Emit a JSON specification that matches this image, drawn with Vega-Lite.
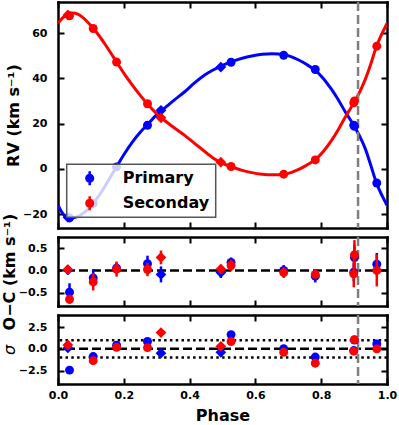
{
"$schema": "https://vega.github.io/schema/vega-lite/v6.json",
"background": "white",
"padding": {"left": 1, "top": 0, "right": 5, "bottom": 0},
"bounds": "flush",
"spacing": 9,
"resolve": {"scale": {"color": "independent"}, "legend": {"color": "independent"}},
"config": {
  "font": "DejaVu Sans",
  "view": {"stroke": null},
  "axis": {"domain": true, "domainColor": "black", "domainWidth": 2.5, "domainCap": "square", "grid": false, "ticks": true, "tickColor": "black", "tickWidth": 2, "tickSize": -6, "labelFont": "DejaVu Sans", "labelFontSize": 11, "labelFontWeight": "bold", "labelColor": "black", "labelFlush": false, "labelOverlap": false, "titleFont": "DejaVu Sans", "titleFontSize": 16, "titleFontWeight": "bold", "titleColor": "black", "titlePadding": 3, "zindex": 1},
  "axisX": {"labelPadding": 11, "titlePadding": 7},
  "axisY": {"labelPadding": 17, "titlePadding": 1}
},
"datasets": {
  "curve": [
    {"comp":"Primary","phase":0,"rv":-16},{"comp":"Primary","phase":0.015,"rv":-19.8},{"comp":"Primary","phase":0.033,"rv":-21.5},{"comp":"Primary","phase":0.05,"rv":-21.4},{"comp":"Primary","phase":0.07,"rv":-20.2},{"comp":"Primary","phase":0.094,"rv":-17.3},{"comp":"Primary","phase":0.115,"rv":-13.6},{"comp":"Primary","phase":0.135,"rv":-9.5},{"comp":"Primary","phase":0.155,"rv":-4.6},{"comp":"Primary","phase":0.176,"rv":0.5},{"comp":"Primary","phase":0.2,"rv":6.3},{"comp":"Primary","phase":0.226,"rv":11.9},{"comp":"Primary","phase":0.25,"rv":16.2},{"comp":"Primary","phase":0.272,"rv":19.6},{"comp":"Primary","phase":0.3,"rv":24.0},{"comp":"Primary","phase":0.325,"rv":27.0},{"comp":"Primary","phase":0.355,"rv":30.6},{"comp":"Primary","phase":0.386,"rv":34.2},{"comp":"Primary","phase":0.415,"rv":38.0},{"comp":"Primary","phase":0.447,"rv":41.6},{"comp":"Primary","phase":0.47,"rv":43.6},{"comp":"Primary","phase":0.497,"rv":45.5},{"comp":"Primary","phase":0.528,"rv":47.4},{"comp":"Primary","phase":0.56,"rv":48.9},{"comp":"Primary","phase":0.589,"rv":49.9},{"comp":"Primary","phase":0.62,"rv":50.6},{"comp":"Primary","phase":0.65,"rv":50.9},{"comp":"Primary","phase":0.669,"rv":50.8},{"comp":"Primary","phase":0.689,"rv":50.4},{"comp":"Primary","phase":0.71,"rv":49.5},{"comp":"Primary","phase":0.73,"rv":48.2},{"comp":"Primary","phase":0.755,"rv":46.2},{"comp":"Primary","phase":0.783,"rv":43.4},{"comp":"Primary","phase":0.805,"rv":40.2},{"comp":"Primary","phase":0.831,"rv":35.2},{"comp":"Primary","phase":0.85,"rv":31.0},{"comp":"Primary","phase":0.872,"rv":25.5},{"comp":"Primary","phase":0.9,"rv":19.0},{"comp":"Primary","phase":0.915,"rv":15.0},{"comp":"Primary","phase":0.933,"rv":9.3},{"comp":"Primary","phase":0.95,"rv":2.0},{"comp":"Primary","phase":0.968,"rv":-6.2},{"comp":"Primary","phase":0.985,"rv":-11.8},{"comp":"Primary","phase":1.0,"rv":-16},
    {"comp":"Seconday","phase":0,"rv":64.3},{"comp":"Seconday","phase":0.015,"rv":66.8},{"comp":"Seconday","phase":0.03,"rv":68.3},{"comp":"Seconday","phase":0.044,"rv":68.8},{"comp":"Seconday","phase":0.06,"rv":68.3},{"comp":"Seconday","phase":0.074,"rv":67.0},{"comp":"Seconday","phase":0.09,"rv":64.9},{"comp":"Seconday","phase":0.107,"rv":62.1},{"comp":"Seconday","phase":0.125,"rv":58.8},{"comp":"Seconday","phase":0.145,"rv":54.6},{"comp":"Seconday","phase":0.16,"rv":51.3},{"comp":"Seconday","phase":0.178,"rv":47.2},{"comp":"Seconday","phase":0.2,"rv":42.3},{"comp":"Seconday","phase":0.226,"rv":37.0},{"comp":"Seconday","phase":0.25,"rv":32.5},{"comp":"Seconday","phase":0.272,"rv":28.7},{"comp":"Seconday","phase":0.3,"rv":24.4},{"comp":"Seconday","phase":0.325,"rv":21.3},{"comp":"Seconday","phase":0.355,"rv":18.0},{"comp":"Seconday","phase":0.386,"rv":14.7},{"comp":"Seconday","phase":0.415,"rv":11.3},{"comp":"Seconday","phase":0.447,"rv":7.6},{"comp":"Seconday","phase":0.47,"rv":5.0},{"comp":"Seconday","phase":0.497,"rv":2.7},{"comp":"Seconday","phase":0.528,"rv":0.9},{"comp":"Seconday","phase":0.56,"rv":-0.6},{"comp":"Seconday","phase":0.589,"rv":-1.6},{"comp":"Seconday","phase":0.62,"rv":-2.3},{"comp":"Seconday","phase":0.65,"rv":-2.6},{"comp":"Seconday","phase":0.669,"rv":-2.6},{"comp":"Seconday","phase":0.689,"rv":-2.3},{"comp":"Seconday","phase":0.71,"rv":-1.5},{"comp":"Seconday","phase":0.73,"rv":-0.3},{"comp":"Seconday","phase":0.755,"rv":1.6},{"comp":"Seconday","phase":0.783,"rv":4.2},{"comp":"Seconday","phase":0.805,"rv":7.5},{"comp":"Seconday","phase":0.831,"rv":12.5},{"comp":"Seconday","phase":0.85,"rv":16.9},{"comp":"Seconday","phase":0.872,"rv":22.6},{"comp":"Seconday","phase":0.9,"rv":29.4},{"comp":"Seconday","phase":0.915,"rv":33.4},{"comp":"Seconday","phase":0.933,"rv":39.2},{"comp":"Seconday","phase":0.95,"rv":46.0},{"comp":"Seconday","phase":0.968,"rv":54.2},{"comp":"Seconday","phase":0.985,"rv":59.8},{"comp":"Seconday","phase":1.0,"rv":64.3}
  ],
  "obs": [
    {"comp":"Primary","inst":"diamond","phase":0.030,"rv":-21.3,"oc":0.01,"err":0.1,"sig":0.1},
    {"comp":"Primary","inst":"circle","phase":0.035,"rv":-21.6,"oc":-0.49,"err":0.2,"sig":-2.45},
    {"comp":"Primary","inst":"circle","phase":0.107,"rv":-15.2,"oc":-0.17,"err":0.19,"sig":-0.89},
    {"comp":"Primary","inst":"circle","phase":0.178,"rv":0.9,"oc":0.05,"err":0.12,"sig":0.42},
    {"comp":"Primary","inst":"circle","phase":0.272,"rv":19.3,"oc":0.15,"err":0.18,"sig":0.85},
    {"comp":"Primary","inst":"diamond","phase":0.313,"rv":25.9,"oc":-0.09,"err":0.18,"sig":-0.5},
    {"comp":"Primary","inst":"diamond","phase":0.495,"rv":45.0,"oc":-0.05,"err":0.12,"sig":-0.4},
    {"comp":"Primary","inst":"circle","phase":0.526,"rv":47.1,"oc":0.18,"err":0.11,"sig":1.64},
    {"comp":"Primary","inst":"circle","phase":0.686,"rv":50.2,"oc":0.0,"err":0.12,"sig":0.02},
    {"comp":"Primary","inst":"circle","phase":0.782,"rv":43.9,"oc":-0.13,"err":0.14,"sig":-0.95},
    {"comp":"Primary","inst":"circle","phase":0.899,"rv":19.3,"oc":-0.04,"err":0.2,"sig":-0.2},
    {"comp":"Primary","inst":"circle","phase":0.901,"rv":18.8,"oc":0.29,"err":0.28,"sig":1.02},
    {"comp":"Primary","inst":"circle","phase":0.969,"rv":-6.2,"oc":0.14,"err":0.25,"sig":0.57},
    {"comp":"Seconday","inst":"diamond","phase":0.030,"rv":68.0,"oc":0.02,"err":0.05,"sig":0.45},
    {"comp":"Seconday","inst":"circle","phase":0.035,"rv":67.6,"oc":-0.65,"err":0.1,"sig":-6.5},
    {"comp":"Seconday","inst":"circle","phase":0.107,"rv":62.0,"oc":-0.26,"err":0.19,"sig":-1.36},
    {"comp":"Seconday","inst":"circle","phase":0.178,"rv":47.2,"oc":0.03,"err":0.17,"sig":0.18},
    {"comp":"Seconday","inst":"circle","phase":0.272,"rv":28.8,"oc":0.02,"err":0.15,"sig":0.14},
    {"comp":"Seconday","inst":"diamond","phase":0.313,"rv":22.6,"oc":0.29,"err":0.155,"sig":1.88},
    {"comp":"Seconday","inst":"diamond","phase":0.495,"rv":3.0,"oc":0.03,"err":0.1,"sig":0.3},
    {"comp":"Seconday","inst":"circle","phase":0.526,"rv":1.1,"oc":0.11,"err":0.13,"sig":0.85},
    {"comp":"Seconday","inst":"circle","phase":0.686,"rv":-2.3,"oc":-0.05,"err":0.12,"sig":-0.4},
    {"comp":"Seconday","inst":"circle","phase":0.782,"rv":4.0,"oc":-0.09,"err":0.055,"sig":-1.65},
    {"comp":"Seconday","inst":"circle","phase":0.899,"rv":29.2,"oc":-0.08,"err":0.3,"sig":-0.27},
    {"comp":"Seconday","inst":"circle","phase":0.901,"rv":30.0,"oc":0.35,"err":0.33,"sig":1.06},
    {"comp":"Seconday","inst":"circle","phase":0.969,"rv":54.2,"oc":0.0,"err":0.36,"sig":0.0}
  ]
},
"vconcat": [
  {
    "width": 329, "height": 226,
    "resolve": {"axis": {"x": "independent", "y": "independent"}},
    "layer": [
      {
        "data": {"name": "curve"},
        "mark": {"type": "line", "strokeWidth": 3, "interpolate": "monotone", "clip": true},
        "encoding": {
          "x": {"field": "phase", "type": "quantitative", "scale": {"domain": [0, 1], "nice": false}, "axis": null},
          "y": {"field": "rv", "type": "quantitative", "scale": {"domain": [-26.05, 73.7], "nice": false, "zero": false}, "axis": null},
          "color": {"field": "comp", "type": "nominal", "scale": {"domain": ["Primary", "Seconday"], "range": ["#0000ff", "#ff0000"]}}
        }
      },
      {
        "data": {"values": [{}]},
        "mark": {"type": "rule", "color": "#808080", "strokeWidth": 2.5, "strokeDash": [9, 4]},
        "encoding": {"x": {"datum": 0.912, "type": "quantitative", "axis": null}}
      },
      {
        "data": {"name": "obs"},
        "transform": [{"filter": "datum.comp === 'Primary'"}],
        "mark": {"type": "point", "filled": true, "opacity": 1, "strokeWidth": 0, "clip": true},
        "encoding": {
          "x": {"field": "phase", "type": "quantitative", "axis": {"orient": "bottom", "values": [0, 0.2, 0.4, 0.6, 0.8, 1], "labels": false, "title": null}},
          "y": {"field": "rv", "type": "quantitative", "axis": {"orient": "left", "values": [-20, 0, 20, 40, 60], "title": "RV (km s⁻¹)"}},
          "color": {"field": "comp", "type": "nominal", "scale": {"domain": ["Primary", "Seconday"], "range": ["#0000ff", "#ff0000"]}},
          "shape": {"field": "inst", "type": "nominal", "scale": {"domain": ["circle", "diamond"], "range": ["circle", "diamond"]}, "legend": null},
          "size": {"field": "inst", "type": "nominal", "scale": {"domain": ["circle", "diamond"], "range": [80, 115]}, "legend": null}
        }
      },
      {
        "data": {"name": "obs"},
        "transform": [{"filter": "datum.comp === 'Seconday'"}],
        "mark": {"type": "point", "filled": true, "opacity": 1, "strokeWidth": 0, "clip": true},
        "encoding": {
          "x": {"field": "phase", "type": "quantitative", "axis": {"orient": "top", "values": [0, 0.2, 0.4, 0.6, 0.8, 1], "labels": false, "title": null}},
          "y": {"field": "rv", "type": "quantitative", "axis": {"orient": "right", "values": [-20, 0, 20, 40, 60], "labels": false, "title": null}},
          "color": {"field": "comp", "type": "nominal", "scale": {"domain": ["Primary", "Seconday"], "range": ["#0000ff", "#ff0000"]},
            "legend": {"orient": "none", "legendX": 8.7, "legendY": 162.3, "title": null, "symbolType": "M-0.18,-1H0.18V1H-0.18ZM-0.65,0A0.65,0.65 0 1,1 0.65,0A0.65,0.65 0 1,1 -0.65,0Z", "symbolSize": 196, "symbolStrokeWidth": 0, "symbolOpacity": 1, "symbolOffset": 9, "labelOffset": 25, "labelFont": "DejaVu Sans", "labelFontSize": 16, "labelFontWeight": "bold", "labelColor": "black", "padding": 6, "rowPadding": 9, "fillColor": "rgba(255,255,255,0.8)", "strokeColor": "#555555", "zindex": 2, "encode": {"legend": {"update": {"strokeWidth": {"value": 1.5}}}}}},
          "shape": {"field": "inst", "type": "nominal", "scale": {"domain": ["circle", "diamond"], "range": ["circle", "diamond"]}, "legend": null},
          "size": {"field": "inst", "type": "nominal", "scale": {"domain": ["circle", "diamond"], "range": [80, 115]}, "legend": null}
        }
      }
    ]
  },
  {
    "width": 329, "height": 69,
    "resolve": {"axis": {"x": "independent", "y": "independent"}},
    "layer": [
      {
        "data": {"values": [{}]},
        "mark": {"type": "rule", "color": "black", "strokeWidth": 2.5, "strokeDash": [9, 4]},
        "encoding": {"y": {"datum": 0, "type": "quantitative", "scale": {"domain": [-0.8, 0.75], "nice": false, "zero": false}, "axis": null}}
      },
      {
        "data": {"values": [{}]},
        "mark": {"type": "rule", "color": "#808080", "strokeWidth": 2.5, "strokeDash": [9, 4]},
        "encoding": {"x": {"datum": 0.912, "type": "quantitative", "scale": {"domain": [0, 1], "nice": false}, "axis": null}}
      },
      {
        "data": {"name": "obs"},
        "transform": [{"filter": "datum.comp === 'Primary'"}],
        "mark": {"type": "errorbar", "ticks": false, "thickness": 2.5, "clip": true},
        "encoding": {
          "x": {"field": "phase", "type": "quantitative", "axis": null},
          "y": {"field": "oc", "type": "quantitative", "axis": null},
          "yError": {"field": "err"},
          "color": {"field": "comp", "type": "nominal", "scale": {"domain": ["Primary", "Seconday"], "range": ["#0000ff", "#ff0000"]}, "legend": null}
        }
      },
      {
        "data": {"name": "obs"},
        "transform": [{"filter": "datum.comp === 'Primary'"}],
        "mark": {"type": "point", "filled": true, "opacity": 1, "strokeWidth": 0, "clip": true},
        "encoding": {
          "x": {"field": "phase", "type": "quantitative", "axis": {"orient": "bottom", "values": [0, 0.2, 0.4, 0.6, 0.8, 1], "labels": false, "title": null}},
          "y": {"field": "oc", "type": "quantitative", "axis": {"orient": "left", "values": [-0.5, 0, 0.5], "format": ".1f", "title": "O−C (km s⁻¹)"}},
          "color": {"field": "comp", "type": "nominal", "legend": null},
          "shape": {"field": "inst", "type": "nominal", "scale": {"domain": ["circle", "diamond"], "range": ["circle", "diamond"]}, "legend": null},
          "size": {"field": "inst", "type": "nominal", "scale": {"domain": ["circle", "diamond"], "range": [80, 115]}, "legend": null}
        }
      },
      {
        "data": {"name": "obs"},
        "transform": [{"filter": "datum.comp === 'Seconday'"}],
        "mark": {"type": "errorbar", "ticks": false, "thickness": 2.5, "clip": true},
        "encoding": {
          "x": {"field": "phase", "type": "quantitative", "axis": null},
          "y": {"field": "oc", "type": "quantitative", "axis": null},
          "yError": {"field": "err"},
          "color": {"field": "comp", "type": "nominal", "legend": null}
        }
      },
      {
        "data": {"name": "obs"},
        "transform": [{"filter": "datum.comp === 'Seconday'"}],
        "mark": {"type": "point", "filled": true, "opacity": 1, "strokeWidth": 0, "clip": true},
        "encoding": {
          "x": {"field": "phase", "type": "quantitative", "axis": {"orient": "top", "values": [0, 0.2, 0.4, 0.6, 0.8, 1], "labels": false, "title": null}},
          "y": {"field": "oc", "type": "quantitative", "axis": {"orient": "right", "values": [-0.5, 0, 0.5], "labels": false, "title": null}},
          "color": {"field": "comp", "type": "nominal", "legend": null},
          "shape": {"field": "inst", "type": "nominal", "scale": {"domain": ["circle", "diamond"], "range": ["circle", "diamond"]}, "legend": null},
          "size": {"field": "inst", "type": "nominal", "scale": {"domain": ["circle", "diamond"], "range": [80, 115]}, "legend": null}
        }
      }
    ]
  },
  {
    "width": 329, "height": 69,
    "resolve": {"axis": {"x": "independent", "y": "independent"}},
    "layer": [
      {
        "data": {"values": [{}]},
        "mark": {"type": "rule", "color": "black", "strokeWidth": 2.5, "strokeDash": [2.5, 3.3]},
        "encoding": {"y": {"datum": 1, "type": "quantitative", "scale": {"domain": [-4.05, 3.9], "nice": false, "zero": false}, "axis": null}}
      },
      {
        "data": {"values": [{}]},
        "mark": {"type": "rule", "color": "black", "strokeWidth": 2.5, "strokeDash": [2.5, 3.3]},
        "encoding": {"y": {"datum": -1, "type": "quantitative", "axis": null}}
      },
      {
        "data": {"values": [{}]},
        "mark": {"type": "rule", "color": "black", "strokeWidth": 2.5, "strokeDash": [9, 4]},
        "encoding": {"y": {"datum": 0, "type": "quantitative", "axis": null}}
      },
      {
        "data": {"values": [{}]},
        "mark": {"type": "rule", "color": "#808080", "strokeWidth": 2.5, "strokeDash": [9, 4]},
        "encoding": {"x": {"datum": 0.912, "type": "quantitative", "scale": {"domain": [0, 1], "nice": false}, "axis": null}}
      },
      {
        "data": {"name": "obs"},
        "transform": [{"filter": "datum.comp === 'Primary'"}],
        "mark": {"type": "point", "filled": true, "opacity": 1, "strokeWidth": 0, "clip": true},
        "encoding": {
          "x": {"field": "phase", "type": "quantitative", "axis": {"orient": "bottom", "values": [0, 0.2, 0.4, 0.6, 0.8, 1], "format": ".1f", "title": "Phase"}},
          "y": {"field": "sig", "type": "quantitative", "axis": {"orient": "left", "values": [-2.5, 0, 2.5], "format": ".1f", "title": "σ", "titleFontWeight": "normal", "titleFontStyle": "italic"}},
          "color": {"field": "comp", "type": "nominal", "scale": {"domain": ["Primary", "Seconday"], "range": ["#0000ff", "#ff0000"]}, "legend": null},
          "shape": {"field": "inst", "type": "nominal", "scale": {"domain": ["circle", "diamond"], "range": ["circle", "diamond"]}, "legend": null},
          "size": {"field": "inst", "type": "nominal", "scale": {"domain": ["circle", "diamond"], "range": [80, 115]}, "legend": null}
        }
      },
      {
        "data": {"name": "obs"},
        "transform": [{"filter": "datum.comp === 'Seconday'"}],
        "mark": {"type": "point", "filled": true, "opacity": 1, "strokeWidth": 0, "clip": true},
        "encoding": {
          "x": {"field": "phase", "type": "quantitative", "axis": {"orient": "top", "values": [0, 0.2, 0.4, 0.6, 0.8, 1], "labels": false, "title": null}},
          "y": {"field": "sig", "type": "quantitative", "axis": {"orient": "right", "values": [-2.5, 0, 2.5], "labels": false, "title": null}},
          "color": {"field": "comp", "type": "nominal", "legend": null},
          "shape": {"field": "inst", "type": "nominal", "scale": {"domain": ["circle", "diamond"], "range": ["circle", "diamond"]}, "legend": null},
          "size": {"field": "inst", "type": "nominal", "scale": {"domain": ["circle", "diamond"], "range": [80, 115]}, "legend": null}
        }
      }
    ]
  }
]
}
